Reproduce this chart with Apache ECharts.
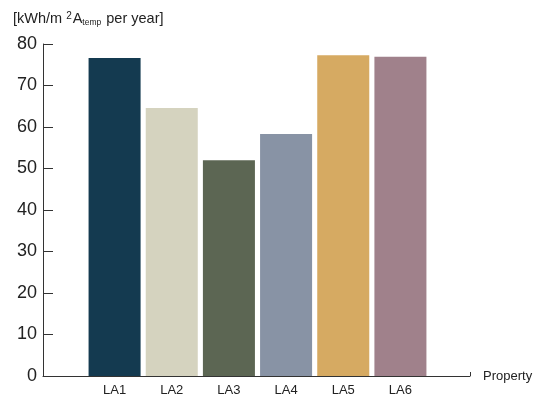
<!DOCTYPE html>
<html>
<head>
<meta charset="utf-8">
<script src="https://cdn.jsdelivr.net/npm/echarts@6/dist/echarts.min.js"></script>
<style>
  html, body { margin: 0; padding: 0; background: #fff; }
  #chart { width: 553px; height: 399px; }
</style>
</head>
<body>
<div id="chart"></div>
<script>
// Energy use per property, kWh per m² heated area (Atemp) per year
const categories = ['LA1', 'LA2', 'LA3', 'LA4', 'LA5', 'LA6'];
const energyUse = [76.6, 64.6, 52.0, 58.3, 77.3, 76.9];
const barColors = ['#143a50', '#d5d3bf', '#5c6653', '#8893a5', '#d6aa62', '#a0818b'];
const yTicks = { min: 0, max: 80, step: 10 };

const FONT = '"Liberation Sans", Arial, sans-serif';
const INK = '#222';
const AXIS = '#333';

const W = 553;
const GRID = { left: 43, right: 83, top: 44, bottom: 23 };
const plotWidth = W - GRID.left - GRID.right;

const chart = echarts.init(document.getElementById('chart'), null, { renderer: 'canvas' });

chart.setOption({
  animation: false,
  backgroundColor: '#fff',
  title: {
    left: 8,
    top: 6,
    text: '{a|[kWh/m}{sup|2}{a|A}{sub|temp}{a| per year]}',
    textStyle: {
      fontWeight: 'normal',
      rich: {
        a: { fontFamily: FONT, fontSize: 14.5, fontWeight: 'normal', color: INK },
        sup: { fontFamily: FONT, fontSize: 10, fontWeight: 'normal', color: INK, verticalAlign: 'top', padding: [0, 1, 6, 4] },
        sub: { fontFamily: FONT, fontSize: 8.5, fontWeight: 'normal', color: INK, verticalAlign: 'bottom', padding: [3, 1, 0, 0] }
      }
    }
  },
  grid: [
    // frame grid: carries the axes
    GRID,
    // bar grid: the six property bands
    { left: 86, right: 124, top: GRID.top, bottom: GRID.bottom }
  ],
  xAxis: [
    {
      gridIndex: 0,
      type: 'value',
      min: 0, max: 1, interval: 1,
      name: 'Property',
      nameLocation: 'end',
      nameGap: 13,
      nameTextStyle: { fontFamily: FONT, fontSize: 13, color: INK, verticalAlign: 'middle', padding: [0, 0, 10, 0] },
      axisLine: { show: true, onZero: false, lineStyle: { color: AXIS, width: 1 } },
      axisTick: { show: true, inside: true, length: 4, lineStyle: { color: AXIS } },
      axisLabel: { show: false },
      splitLine: { show: false }
    },
    {
      gridIndex: 1,
      type: 'category',
      data: categories,
      boundaryGap: true,
      axisLine: { show: false },
      axisTick: { show: false },
      axisLabel: { fontFamily: FONT, fontSize: 13, color: INK, margin: 8 }
    }
  ],
  yAxis: [
    {
      // value axis with labels
      gridIndex: 0,
      type: 'value',
      position: 'left',
      min: yTicks.min, max: yTicks.max, interval: yTicks.step,
      axisLine: { show: true, onZero: false, lineStyle: { color: AXIS, width: 1 } },
      axisTick: { show: false },
      axisLabel: { fontFamily: FONT, fontSize: 18, color: INK, margin: 6 },
      splitLine: { show: false }
    },
    {
      // same scale, placed on the left edge, carrying the inward ticks
      gridIndex: 0,
      type: 'value',
      position: 'right',
      offset: -plotWidth,
      min: yTicks.min, max: yTicks.max, interval: yTicks.step,
      axisLine: { show: false, onZero: false },
      axisTick: { show: true, inside: false, length: 10, lineStyle: { color: AXIS, width: 1 } },
      axisLabel: { show: false },
      splitLine: { show: false }
    },
    {
      gridIndex: 1,
      type: 'value',
      min: yTicks.min, max: yTicks.max, interval: yTicks.step,
      axisLine: { show: false },
      axisTick: { show: false },
      axisLabel: { show: false },
      splitLine: { show: false }
    }
  ],
  series: [
    {
      type: 'bar',
      xAxisIndex: 1,
      yAxisIndex: 2,
      data: energyUse.map((v, i) => ({ value: v, itemStyle: { color: barColors[i] } })),
      barCategoryGap: '9%'
    }
  ]
});
</script>
</body>
</html>
